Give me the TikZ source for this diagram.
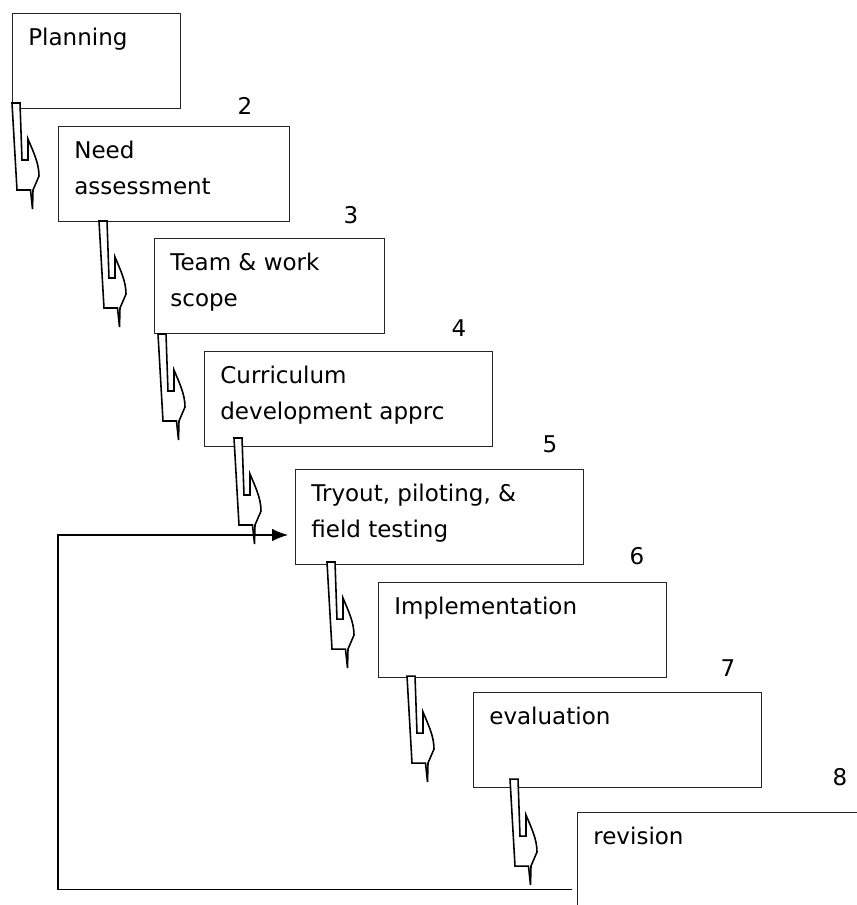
\documentclass[tikz,border=0pt]{standalone}
\usepackage{fontspec}
\setmainfont{DejaVu Sans}
\usetikzlibrary{calc,arrows.meta}

\tikzset{
  stage/.style={draw=black!85,line width=0.6pt,rectangle,anchor=north west,
    minimum height=1.9cm,inner sep=0pt},
  stagetext/.style={anchor=north west,inner sep=0pt,align=left,
    font=\fontsize{13.1}{20.4}\selectfont},
  stepnum/.style={inner sep=0pt,font=\fontsize{13.1}{15}\selectfont},
  feedback/.style={line width=0.6pt,-{Latex[length=9pt,width=7pt]}},
  bentarrow/.pic={
    \draw[line width=0.9pt,fill=white,line join=miter]
      (0,0) -- (8,0) -- (10,57) -- (16,57) -- (16,36)
      .. controls (21,48) and (27,60) .. (27,73)
      -- (21,87) -- (20.5,106) -- (18.5,87) -- (5,87) -- cycle;
  }
}

\begin{document}
\begin{tikzpicture}[x=0.02cm,y=-0.02cm]
\useasboundingbox (0,0) rectangle (857,905);
\clip (0,0) rectangle (857,905);

% stage boxes
\node[stage,minimum width=3.36cm] (b1) at (12,13) {};
\node[stage,minimum width=4.62cm] (b2) at (58,126) {};
\node[stage,minimum width=4.60cm] (b3) at (154,238) {};
\node[stage,minimum width=5.76cm] (b4) at (204,351) {};
\node[stage,minimum width=5.76cm] (b5) at (295,469) {};
\node[stage,minimum width=5.76cm] (b6) at (378,582) {};
\node[stage,minimum width=5.76cm] (b7) at (473,692) {};
\node[stage,minimum width=6.20cm] (b8) at (577,812) {};

% stage texts
\node[stagetext] (t1) at ($(b1.north west)+(16,15)$) {Planning};
\node[stagetext] (t2) at ($(b2.north west)+(16,15)$) {Need\\assessment};
\node[stagetext] (t3) at ($(b3.north west)+(16,15)$) {Team \& work\\scope};
\node[stagetext] (t4) at ($(b4.north west)+(16,15)$) {Curriculum\\development apprc};
\node[stagetext] (t5) at ($(b5.north west)+(16,15)$) {Tryout, piloting, \&\\field testing};
\node[stagetext] (t6) at ($(b6.north west)+(16,15)$) {Implementation};
\node[stagetext] (t7) at ($(b7.north west)+(16,15)$) {evaluation};
\node[stagetext] (t8) at ($(b8.north west)+(16,15)$) {revision};

% step numbers
\node[stepnum] (n2) at (245,106) {2};
\node[stepnum] (n3) at (351,215) {3};
\node[stepnum] (n4) at (459,328) {4};
\node[stepnum] (n5) at (550,444) {5};
\node[stepnum] (n6) at (637,556) {6};
\node[stepnum] (n7) at (728,668) {7};
\node[stepnum] (n8) at (840,777) {8};

% bent arrows between stages
\pic at ($(b1.south west)+(0,-6)$) {bentarrow};
\pic at ($(b2.south west)+(41,-1)$) {bentarrow};
\pic at ($(b3.south west)+(4,0)$) {bentarrow};
\pic at ($(b4.south west)+(30,-9)$) {bentarrow};
\pic at ($(b5.south west)+(32,-3)$) {bentarrow};
\pic at ($(b6.south west)+(29,-2)$) {bentarrow};
\pic at ($(b7.south west)+(37,-9)$) {bentarrow};

% revision loops back to tryout
\coordinate (corner) at (58,535);
\draw[feedback] ($(b8.south west)+(-5,-19)$) -| (corner) -- ($(b5.north west)+(-7,66)$);
\end{tikzpicture}
\end{document}
